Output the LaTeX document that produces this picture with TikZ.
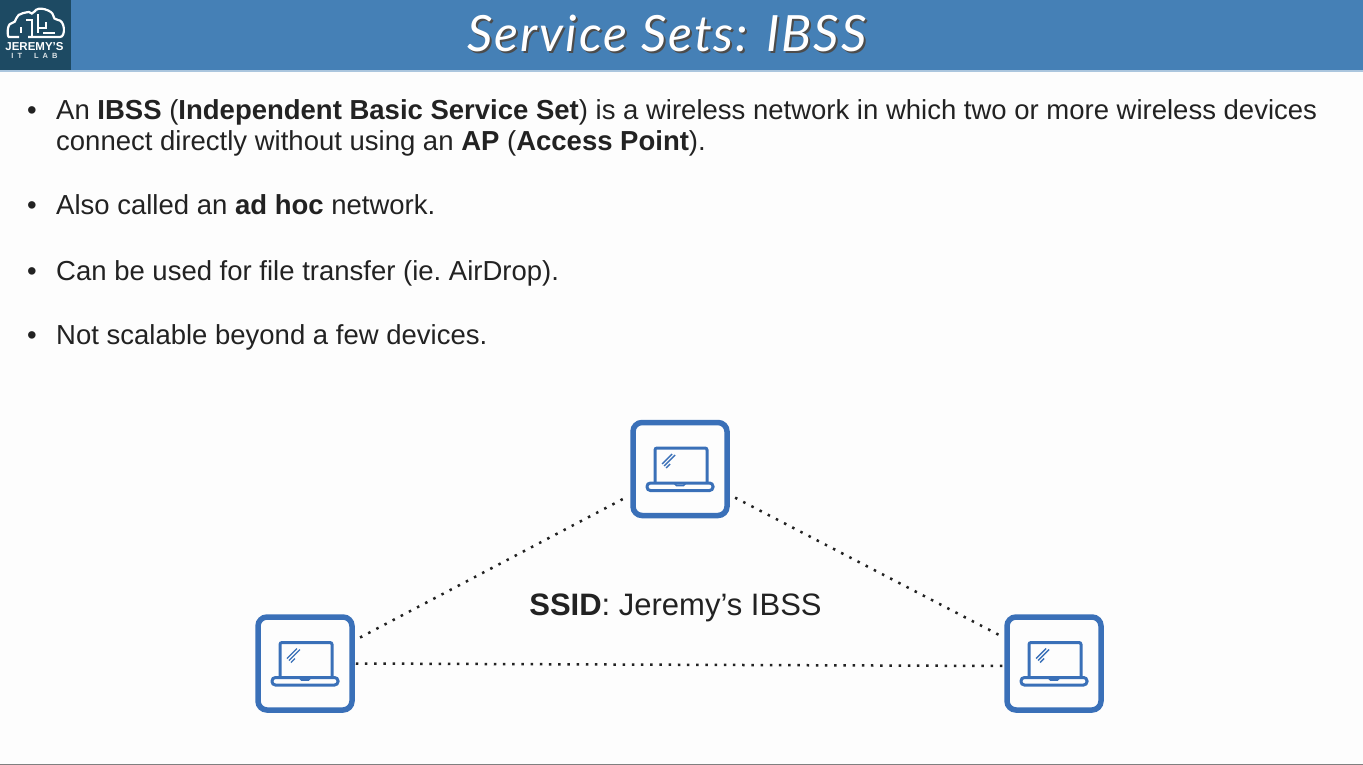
\documentclass[tikz,border=0pt]{standalone}
\usepackage{fontspec}
\setmainfont{Liberation Sans}
\newfontfamily\titlefont[LetterSpace=4]{Lato}
\usepackage{tikz}
\usetikzlibrary{positioning,shapes.misc}
\definecolor{barBlue}{HTML}{4580B6}
\definecolor{logoDark}{HTML}{1D4A63}
\definecolor{boxBlue}{HTML}{3A70B8}
\definecolor{pageWhite}{HTML}{FDFDFD}
\definecolor{inkDark}{HTML}{222222}
\tikzset{
  bodytext/.style={anchor=base west,inner sep=0pt,text=inkDark,font=\fontsize{27.5}{32}\selectfont},
  titletext/.style={inner sep=0pt,font=\titlefont\itshape\fontsize{50}{55}\selectfont},
  pcbox/.style={draw=boxBlue,line width=5.5pt,rounded corners=9pt,fill=pageWhite,minimum width=94pt,minimum height=93pt,inner sep=0pt},
  wifilink/.style={draw=inkDark,line width=2.5pt,dash pattern=on 2.5pt off 6.7pt,shorten >=6pt,shorten <=6pt},
  laptop/.pic={
    \draw[boxBlue,line width=3pt,rounded corners=2pt] (-25,13) -- (-25,-21) -- (27,-21) -- (27,13);
    \draw[boxBlue,line width=3pt,rounded corners=3.4pt] (-33,14) rectangle (33,21.5);
    \draw[boxBlue,line width=1.6pt] (-6,14) -- (-3.5,16.5) -- (3.5,16.5) -- (6,14);
    \draw[boxBlue,line width=1.4pt] (-18,-5) -- (-8,-15) (-16,-3) -- (-5,-14) (-14,-1) -- (-10,-5);
  }
}
\begin{document}
\begin{tikzpicture}[x=1pt,y=-1pt]
\useasboundingbox (0,0) rectangle (1363,765);
\fill[pageWhite] (0,0) rectangle (1363,765);
\draw[gray,line width=1pt] (0,764.5) -- (1363,764.5);
% ---------- title bar ----------
\fill[barBlue] (0,0) rectangle (1363,70);
\fill[barBlue!45!white] (0,70) rectangle (1363,72);
\fill[logoDark] (0,0) rectangle (71,70);
\node[titletext,text=black!70] at (669,35) {Service Sets: IBSS};
\node (title) [titletext,text=white] at (667,33) {Service Sets: IBSS};
% ---------- logo ----------
\draw[white,line width=2.2pt,rounded corners=5pt] (18,37) -- (14,37) .. controls (7,37) and (7,24) .. (16,23)
  .. controls (17,13) and (29,12) .. (32,16) .. controls (38,5) and (53,11) .. (53,20)
  .. controls (65,20) and (66,37) .. (55,37) -- (28,37);
\draw[white,line width=1.6pt] (21,33) -- (21,27) (32,37) -- (32,20) -- (26,20) (38,33) -- (38,14) (38,28) -- (46,28) -- (46,22) (43,33) -- (55,33);
\node (logotop) [inner sep=0pt,text=white,font=\bfseries\fontsize{11.5}{12}\selectfont] at (34.5,46.5) {JEREMY'S};
\node (logobot) [inner sep=0pt,text=white!85!logoDark,font=\bfseries\fontsize{7.5}{8}\selectfont] at (34.5,56) {I\hspace{4pt}T\hspace{12pt}L\hspace{4pt}A\hspace{4pt}B};
% ---------- bullets ----------
\foreach \yy in {119.5,214.5,280.5,344.5}
  \node[bodytext] at (27,\yy) {•};
\node (lineone) [bodytext] at (56,119.5) {An \textbf{IBSS} (\textbf{Independent Basic Service Set}) is a wireless network in which two or more wireless devices};
\node (linetwo) [bodytext] at (56,150) {connect directly without using an \textbf{AP} (\textbf{Access Point}).};
\node (adhoc) [bodytext] at (56,214.5) {Also called an \textbf{ad hoc} network.};
\node (airdrop) [bodytext] at (56,280.5) {Can be used for file transfer (ie.\ AirDrop).};
\node (scale) [bodytext] at (56,344.5) {Not scalable beyond a few devices.};
% ---------- devices ----------
\node (pctop) [pcbox] at (680,469) {};
\node (pcleft) [pcbox] at (305,663.5) {};
\node (pcright) [pcbox] at (1054,663.5) {};
\foreach \pc in {pctop,pcleft,pcright}
  \pic at (\pc) {laptop};
\draw[wifilink] (pcleft.25) -- (pctop);
\draw[wifilink,shorten >=3pt] (pctop) -- (pcright);
\draw[wifilink,shorten <=1pt,shorten >=2pt] (pcleft.east) -- ([yshift=-2.5pt]pcright.west);
\node (ssid) [anchor=base,inner sep=0pt,text=inkDark,font=\fontsize{31}{36}\selectfont] at (675.5,615) {\textbf{SSID}: Jeremy’s IBSS};
\end{tikzpicture}
\end{document}
